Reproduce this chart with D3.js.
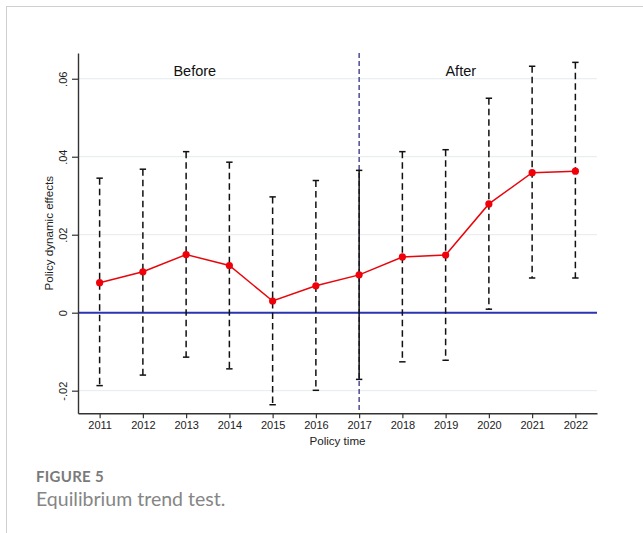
<!DOCTYPE html>
<html>
<head>
<meta charset="utf-8">
<script src="https://cdn.jsdelivr.net/npm/d3@7"></script>
<style>
  html, body { margin: 0; padding: 0; background: #fff; }
  svg { display: block; }
</style>
</head>
<body>
<svg id="chart" width="643" height="533"></svg>
<script>
// ---- data ----
const years = [2011, 2012, 2013, 2014, 2015, 2016, 2017, 2018, 2019, 2020, 2021, 2022];
const coef  = [0.0077, 0.0105, 0.0149, 0.0121, 0.0030, 0.0069, 0.0097, 0.0143, 0.0148, 0.0279, 0.0359, 0.0363];
const upper = [0.0345, 0.0368, 0.0413, 0.0386, 0.0297, 0.0339, 0.0365, 0.0413, 0.0418, 0.0550, 0.0632, 0.0642];
const lower = [-0.0187, -0.0160, -0.0114, -0.0144, -0.0236, -0.0199, -0.0171, -0.0126, -0.0122, 0.0009, 0.0089, 0.0089];
const yTicks = [-0.02, 0, 0.02, 0.04, 0.06];
const yTickLabels = ["-.02", "0", ".02", ".04", ".06"];
const policyYear = 2017;
const periodLabels = ["Before", "After"];
const periodYears = [2013.2, 2019.35];
const yTitle = "Policy dynamic effects";
const xTitle = "Policy time";
const figLabel = "FIGURE 5";
const figCaption = "Equilibrium trend test.";

const rows = years.map((yr, i) => ({ yr, b: coef[i], hi: upper[i], lo: lower[i] }));

const svg = d3.select("#chart");

// card frame
svg.append("rect")
  .attr("x", 6.5).attr("y", 6.5).attr("width", 700).attr("height", 600)
  .attr("fill", "none").attr("stroke", "#cfcfcf").attr("stroke-width", 1);

const x = d3.scaleLinear().domain([2010.5, 2022.5]).range([78, 597]);
const y = d3.scaleLinear().domain([-0.0258, 0.0666]).range([413.3, 53]);

// gridlines
svg.append("g").selectAll("line")
  .data(yTicks.filter(t => t !== 0))
  .join("line")
  .attr("x1", x.range()[0]).attr("x2", x.range()[1])
  .attr("y1", d => y(d)).attr("y2", d => y(d))
  .attr("stroke", "#e6eaee").attr("stroke-width", 1);

// y = 0 reference line
svg.append("line")
  .attr("x1", x.range()[0]).attr("x2", x.range()[1])
  .attr("y1", y(0)).attr("y2", y(0))
  .attr("stroke", "#2a35b0").attr("stroke-width", 2);

// vertical policy line
svg.append("line")
  .attr("x1", x(policyYear)).attr("x2", x(policyYear))
  .attr("y1", y.range()[1]).attr("y2", y.range()[0])
  .attr("stroke", "#1e2278").attr("stroke-width", 1.2)
  .attr("stroke-dasharray", "5,3");

// error bars
const eb = svg.append("g");
eb.selectAll("line.bar")
  .data(rows)
  .join("line")
  .attr("class", "bar")
  .attr("x1", d => x(d.yr)).attr("x2", d => x(d.yr))
  .attr("y1", d => y(d.hi)).attr("y2", d => y(d.lo))
  .attr("stroke", "#111").attr("stroke-width", 1.5)
  .attr("stroke-dasharray", d => d.yr === policyYear ? null : "6.5,4");
["hi", "lo"].forEach(k => {
  eb.selectAll("line.cap-" + k)
    .data(rows)
    .join("line")
    .attr("class", "cap-" + k)
    .attr("x1", d => x(d.yr) - 3.2).attr("x2", d => x(d.yr) + 3.2)
    .attr("y1", d => y(d[k])).attr("y2", d => y(d[k]))
    .attr("stroke", "#111").attr("stroke-width", 1.5);
});

// point estimate line
svg.append("path")
  .datum(rows)
  .attr("fill", "none").attr("stroke", "#e8050b").attr("stroke-width", 1.5)
  .attr("d", d3.line().x(d => x(d.yr)).y(d => y(d.b)));
svg.append("g").selectAll("circle")
  .data(rows)
  .join("circle")
  .attr("cx", d => x(d.yr)).attr("cy", d => y(d.b)).attr("r", 3.6)
  .attr("fill", "#f00008");

// axes
const fontAx = "'Liberation Sans', Arial, sans-serif";
const yAxis = svg.append("g")
  .attr("transform", `translate(${x.range()[0]},0)`)
  .call(d3.axisLeft(y).tickValues(yTicks).tickSize(6).tickSizeOuter(0)
    .tickFormat((d, i) => yTickLabels[i]));
yAxis.select(".domain").attr("stroke", "#333").attr("stroke-width", 1.4);
yAxis.selectAll(".tick line").attr("stroke", "#333").attr("stroke-width", 1.2);
yAxis.selectAll(".tick text")
  .attr("transform", "rotate(-90)")
  .attr("x", 0).attr("y", -15).attr("dy", "0.35em")
  .attr("text-anchor", "middle")
  .attr("font-family", fontAx).attr("font-size", 11).attr("fill", "#222");

const xAxis = svg.append("g")
  .attr("transform", `translate(0,${y.range()[0]})`)
  .call(d3.axisBottom(x).tickValues(years).tickSize(5).tickSizeOuter(0)
    .tickFormat(d3.format("d")));
xAxis.select(".domain").attr("stroke", "#333").attr("stroke-width", 1.4);
xAxis.selectAll(".tick line").attr("stroke", "#333").attr("stroke-width", 1.2);
xAxis.selectAll(".tick text")
  .attr("y", 8).attr("dy", "0.71em")
  .attr("font-family", fontAx).attr("font-size", 11).attr("fill", "#222");

// axis titles
svg.append("text")
  .attr("transform", `translate(49,${(y.range()[0] + y.range()[1]) / 2}) rotate(-90)`)
  .attr("dy", "0.35em").attr("text-anchor", "middle")
  .attr("font-family", fontAx).attr("font-size", 11.6).attr("fill", "#222")
  .text(yTitle);
svg.append("text")
  .attr("x", (x.range()[0] + x.range()[1]) / 2).attr("y", 445)
  .attr("text-anchor", "middle")
  .attr("font-family", fontAx).attr("font-size", 11.6).attr("fill", "#222")
  .text(xTitle);

// period labels
svg.append("g").selectAll("text")
  .data(periodLabels)
  .join("text")
  .attr("x", (d, i) => x(periodYears[i])).attr("y", 76)
  .attr("text-anchor", "middle")
  .attr("font-family", fontAx).attr("font-size", 14.5).attr("fill", "#111")
  .text(d => d);

// caption
svg.append("text")
  .attr("x", 36).attr("y", 482)
  .attr("font-family", "Lato, 'Open Sans', sans-serif").attr("font-weight", 700)
  .attr("font-size", 15).attr("fill", "#7a7a7a").attr("letter-spacing", 0.3)
  .text(figLabel);
svg.append("text")
  .attr("x", 36).attr("y", 506)
  .attr("font-family", "Lato, 'Open Sans', sans-serif").attr("font-weight", 400)
  .attr("font-size", 19.5).attr("fill", "#858585")
  .text(figCaption);
</script>
</body>
</html>
